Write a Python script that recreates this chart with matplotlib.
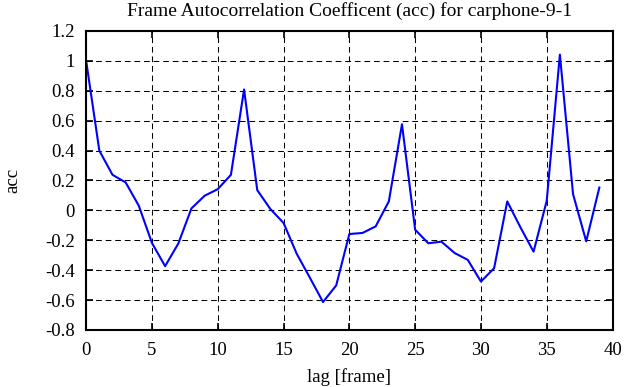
import matplotlib
matplotlib.use("Agg")
import matplotlib.pyplot as plt

lags = list(range(40))
acc = [1.0, 0.40, 0.238, 0.187, 0.031, -0.218, -0.373, -0.222, 0.013, 0.098,
       0.142, 0.238, 0.809, 0.136, 0.009, -0.084, -0.29, -0.45, -0.613, -0.502,
       -0.158, -0.151, -0.107, 0.06, 0.576, -0.129, -0.22, -0.209, -0.285, -0.331,
       -0.476, -0.387, 0.06, -0.113, -0.276, 0.064, 1.042, 0.109, -0.207, 0.153]

xticks = [0, 5, 10, 15, 20, 25, 30, 35, 40]
yticks = [-0.8, -0.6, -0.4, -0.2, 0, 0.2, 0.4, 0.6, 0.8, 1, 1.2]
ytick_labels = ["-0.8", "-0.6", "-0.4", "-0.2", "0", "0.2", "0.4", "0.6", "0.8", "1", "1.2"]

plt.rcParams['font.family'] = ['Liberation Serif', 'DejaVu Serif']
plt.rcParams['font.size'] = 13.5

fig = plt.figure(figsize=(6.35, 3.87), dpi=100)
ax = fig.add_axes([0.1357, 0.1473, 0.9646 - 0.1357, 0.9199 - 0.1473])
ax.plot(lags, acc, color='#0000ff', linewidth=1.5)
ax.set_xlim(0, 40)
ax.set_ylim(-0.8, 1.2)
ax.set_xticks(xticks)
ax.set_yticks(yticks)
ax.set_yticklabels(ytick_labels)
ax.grid(True, color='black', linestyle=(0, (5.5, 3.7)), linewidth=0.75)
ax.tick_params(direction='in', top=True, right=True, length=5, width=1.2)
ax.tick_params(axis='x', pad=9)
ax.tick_params(axis='y', pad=8)
for s in ax.spines.values():
    s.set_linewidth(1.5)
ax.set_title('Frame Autocorrelation Coefficent (acc) for carphone-9-1', fontsize=14, pad=11)
ax.set_xlabel('lag [frame]', labelpad=6)
ax.set_ylabel('acc', labelpad=17)
fig.savefig('out.png', dpi=100)
